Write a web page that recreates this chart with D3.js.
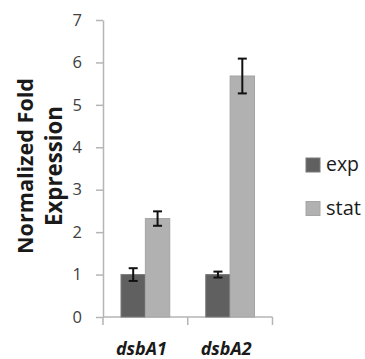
<!DOCTYPE html>
<html><head><meta charset="utf-8">
<script src="https://cdn.jsdelivr.net/npm/d3@7"></script>
<style>body{margin:0;background:#fff}svg{display:block}</style>
</head><body>
<svg id="c" width="365" height="359"></svg>
<script>
const categories = ["dsbA1", "dsbA2"];
const seriesNames = ["exp", "stat"];
const expValues = [1.0, 1.0];
const expErrors = [0.15, 0.07];
const statValues = [2.32, 5.68];
const statErrors = [0.17, 0.41];
const yTicks = [0, 1, 2, 3, 4, 5, 6, 7];
const colors = ["#606060", "#b1b1b1"];
const strokes = ["#7a7a7a", "#a5a5a5"];

const svg = d3.select("#c");
const font = "'Open Sans', sans-serif";
function fit(sel, target) {
  const n = sel.node();
  const w = n.getComputedTextLength();
  const fs = parseFloat(sel.attr("font-size"));
  sel.attr("font-size", (fs * target / w).toFixed(2));
}
const x0 = d3.scaleBand().domain(categories).range([103, 272.5]).paddingInner(0).paddingOuter(0);
const x1 = d3.scaleBand().domain(seriesNames).range([18, x0.bandwidth() - 18]).padding(0);
const y = d3.scaleLinear().domain([0, 7]).range([317, 20]);

// y axis
const ya = svg.append("g").attr("transform", "translate(103,0)")
  .call(d3.axisLeft(y).tickValues(yTicks).tickFormat(d3.format("d")).tickSize(7).tickPadding(14).tickSizeOuter(0));
ya.select(".domain").attr("stroke", "#b5b5b5").attr("stroke-width", 1.5);
ya.selectAll(".tick line").attr("stroke", "#b5b5b5").attr("stroke-width", 1.5);
ya.selectAll(".tick text").attr("font-family", font).attr("font-size", 16.5).attr("fill", "#404040");

// x axis line & ticks
const xa = svg.append("g").attr("transform", "translate(0,317)");
xa.append("line").attr("x1", 103).attr("x2", 272.5).attr("stroke", "#b5b5b5").attr("stroke-width", 1.5);
const bounds = [x0.range()[0]].concat(categories.map(c => x0(c) + x0.bandwidth()));
xa.selectAll("line.t").data(bounds).join("line").attr("class", "t")
  .attr("x1", d => d).attr("x2", d => d).attr("y1", 0).attr("y2", 8)
  .attr("stroke", "#b5b5b5").attr("stroke-width", 1.5);
xa.selectAll("text").data(categories).join("text")
  .attr("x", d => x0(d) + x0.bandwidth() / 2 - 4).attr("y", 37.5)
  .attr("text-anchor", "middle").attr("font-family", font).attr("font-size", 17)
  .attr("font-weight", "bold").attr("font-style", "italic").attr("fill", "#1a1a1a").text(d => d)
  .each(function () { fit(d3.select(this), 51); });

// bars
const series = [
  { name: "exp", values: expValues, errors: expErrors },
  { name: "stat", values: statValues, errors: statErrors }
];
series.forEach((s, si) => {
  const g = svg.append("g");
  g.selectAll("rect").data(categories).join("rect")
    .attr("x", (c) => x0(c) + x1(s.name))
    .attr("width", x1.bandwidth())
    .attr("y", (c, i) => y(s.values[i]))
    .attr("height", (c, i) => y(0) - y(s.values[i]))
    .attr("fill", colors[si]).attr("stroke", strokes[si]).attr("stroke-width", 1);
  categories.forEach((c, i) => {
    const cx = x0(c) + x1(s.name) + x1.bandwidth() / 2;
    const top = y(s.values[i] + s.errors[i]);
    const bot = y(s.values[i] - s.errors[i]);
    g.append("line").attr("x1", cx).attr("x2", cx).attr("y1", top).attr("y2", bot).attr("stroke", "#111").attr("stroke-width", 2);
    [top, bot].forEach(yy => g.append("line").attr("x1", cx - 4.5).attr("x2", cx + 4.5).attr("y1", yy).attr("y2", yy).attr("stroke", "#111").attr("stroke-width", 2));
  });
});

// y title
const yt = svg.append("g").attr("transform", "translate(0,166) rotate(-90)")
  .attr("font-family", font).attr("font-weight", "bold").attr("fill", "#1a1a1a");
const t1 = yt.append("text").attr("x", 0).attr("y", 33).attr("text-anchor", "middle").attr("font-size", 18).text("Normalized Fold");
fit(t1, 176);
const t2 = yt.append("text").attr("x", 0).attr("y", 62).attr("text-anchor", "middle").attr("font-size", 18).text("Expression");
fit(t2, 120);

// legend
const lg = svg.append("g");
seriesNames.forEach((n, i) => {
  const yy = 158 + i * 43.5;
  lg.append("rect").attr("x", 306).attr("y", yy).attr("width", 14).attr("height", 14)
    .attr("fill", colors[i]).attr("stroke", strokes[i]);
  const t = lg.append("text").attr("x", 326).attr("y", yy + 13).attr("font-family", font)
    .attr("font-size", 18).attr("fill", "#1a1a1a").text(n);
  fit(t, i === 0 ? 33 : 35);
});
</script>
</body></html>
